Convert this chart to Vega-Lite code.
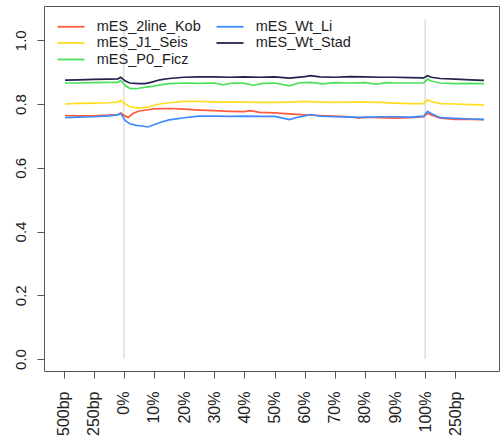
{
  "$schema": "https://vega.github.io/schema/vega-lite/v6.json",
  "width": 455,
  "height": 365,
  "autosize": "none",
  "padding": {"left": 44, "top": 6, "right": 3, "bottom": 72},
  "background": "white",
  "config": {
    "view": {"stroke": "#555", "strokeWidth": 1},
    "font": "Liberation Sans"
  },
  "datasets": {
    "vlines": [{"x": 0, "v": 0, "v2": 1.066}, {"x": 100, "v": 0, "v2": 1.066}],
    "profile": [
      {"s": "mES_Wt_Stad", "x": -19.5, "v": 0.875}, {"s": "mES_Wt_Stad", "x": -15, "v": 0.876}, {"s": "mES_Wt_Stad", "x": -10, "v": 0.877}, {"s": "mES_Wt_Stad", "x": -5, "v": 0.878}, {"s": "mES_Wt_Stad", "x": -2, "v": 0.879}, {"s": "mES_Wt_Stad", "x": -1, "v": 0.884}, {"s": "mES_Wt_Stad", "x": 0.5, "v": 0.872}, {"s": "mES_Wt_Stad", "x": 2, "v": 0.866}, {"s": "mES_Wt_Stad", "x": 5, "v": 0.864}, {"s": "mES_Wt_Stad", "x": 7, "v": 0.864}, {"s": "mES_Wt_Stad", "x": 9, "v": 0.868}, {"s": "mES_Wt_Stad", "x": 12, "v": 0.876}, {"s": "mES_Wt_Stad", "x": 15, "v": 0.88}, {"s": "mES_Wt_Stad", "x": 20, "v": 0.884}, {"s": "mES_Wt_Stad", "x": 25, "v": 0.885}, {"s": "mES_Wt_Stad", "x": 30, "v": 0.885}, {"s": "mES_Wt_Stad", "x": 35, "v": 0.884}, {"s": "mES_Wt_Stad", "x": 40, "v": 0.885}, {"s": "mES_Wt_Stad", "x": 45, "v": 0.884}, {"s": "mES_Wt_Stad", "x": 50, "v": 0.885}, {"s": "mES_Wt_Stad", "x": 55, "v": 0.881}, {"s": "mES_Wt_Stad", "x": 60, "v": 0.886}, {"s": "mES_Wt_Stad", "x": 62, "v": 0.889}, {"s": "mES_Wt_Stad", "x": 65, "v": 0.885}, {"s": "mES_Wt_Stad", "x": 70, "v": 0.884}, {"s": "mES_Wt_Stad", "x": 75, "v": 0.886}, {"s": "mES_Wt_Stad", "x": 80, "v": 0.885}, {"s": "mES_Wt_Stad", "x": 85, "v": 0.884}, {"s": "mES_Wt_Stad", "x": 90, "v": 0.884}, {"s": "mES_Wt_Stad", "x": 95, "v": 0.883}, {"s": "mES_Wt_Stad", "x": 99.5, "v": 0.882}, {"s": "mES_Wt_Stad", "x": 100.8, "v": 0.889}, {"s": "mES_Wt_Stad", "x": 102, "v": 0.884}, {"s": "mES_Wt_Stad", "x": 105, "v": 0.88}, {"s": "mES_Wt_Stad", "x": 110, "v": 0.878}, {"s": "mES_Wt_Stad", "x": 115, "v": 0.876}, {"s": "mES_Wt_Stad", "x": 119.5, "v": 0.874},
      {"s": "mES_P0_Ficz", "x": -19.5, "v": 0.866}, {"s": "mES_P0_Ficz", "x": -15, "v": 0.866}, {"s": "mES_P0_Ficz", "x": -10, "v": 0.867}, {"s": "mES_P0_Ficz", "x": -5, "v": 0.868}, {"s": "mES_P0_Ficz", "x": -2, "v": 0.868}, {"s": "mES_P0_Ficz", "x": -1, "v": 0.874}, {"s": "mES_P0_Ficz", "x": 0.5, "v": 0.858}, {"s": "mES_P0_Ficz", "x": 2, "v": 0.849}, {"s": "mES_P0_Ficz", "x": 4, "v": 0.848}, {"s": "mES_P0_Ficz", "x": 6, "v": 0.851}, {"s": "mES_P0_Ficz", "x": 8, "v": 0.854}, {"s": "mES_P0_Ficz", "x": 10, "v": 0.856}, {"s": "mES_P0_Ficz", "x": 12, "v": 0.86}, {"s": "mES_P0_Ficz", "x": 15, "v": 0.864}, {"s": "mES_P0_Ficz", "x": 20, "v": 0.866}, {"s": "mES_P0_Ficz", "x": 25, "v": 0.865}, {"s": "mES_P0_Ficz", "x": 30, "v": 0.866}, {"s": "mES_P0_Ficz", "x": 33, "v": 0.86}, {"s": "mES_P0_Ficz", "x": 36, "v": 0.866}, {"s": "mES_P0_Ficz", "x": 40, "v": 0.865}, {"s": "mES_P0_Ficz", "x": 43, "v": 0.859}, {"s": "mES_P0_Ficz", "x": 46, "v": 0.865}, {"s": "mES_P0_Ficz", "x": 50, "v": 0.866}, {"s": "mES_P0_Ficz", "x": 55, "v": 0.857}, {"s": "mES_P0_Ficz", "x": 58, "v": 0.866}, {"s": "mES_P0_Ficz", "x": 62, "v": 0.868}, {"s": "mES_P0_Ficz", "x": 66, "v": 0.863}, {"s": "mES_P0_Ficz", "x": 70, "v": 0.867}, {"s": "mES_P0_Ficz", "x": 75, "v": 0.866}, {"s": "mES_P0_Ficz", "x": 80, "v": 0.867}, {"s": "mES_P0_Ficz", "x": 84, "v": 0.862}, {"s": "mES_P0_Ficz", "x": 87, "v": 0.867}, {"s": "mES_P0_Ficz", "x": 90, "v": 0.866}, {"s": "mES_P0_Ficz", "x": 95, "v": 0.866}, {"s": "mES_P0_Ficz", "x": 99.5, "v": 0.866}, {"s": "mES_P0_Ficz", "x": 100.8, "v": 0.878}, {"s": "mES_P0_Ficz", "x": 102, "v": 0.872}, {"s": "mES_P0_Ficz", "x": 105, "v": 0.866}, {"s": "mES_P0_Ficz", "x": 110, "v": 0.864}, {"s": "mES_P0_Ficz", "x": 115, "v": 0.865}, {"s": "mES_P0_Ficz", "x": 119.5, "v": 0.864},
      {"s": "mES_J1_Seis", "x": -19.5, "v": 0.8}, {"s": "mES_J1_Seis", "x": -15, "v": 0.802}, {"s": "mES_J1_Seis", "x": -10, "v": 0.803}, {"s": "mES_J1_Seis", "x": -5, "v": 0.804}, {"s": "mES_J1_Seis", "x": -2, "v": 0.806}, {"s": "mES_J1_Seis", "x": -1, "v": 0.811}, {"s": "mES_J1_Seis", "x": 0.5, "v": 0.8}, {"s": "mES_J1_Seis", "x": 2, "v": 0.792}, {"s": "mES_J1_Seis", "x": 4, "v": 0.788}, {"s": "mES_J1_Seis", "x": 6, "v": 0.788}, {"s": "mES_J1_Seis", "x": 8, "v": 0.79}, {"s": "mES_J1_Seis", "x": 10, "v": 0.796}, {"s": "mES_J1_Seis", "x": 12, "v": 0.8}, {"s": "mES_J1_Seis", "x": 15, "v": 0.804}, {"s": "mES_J1_Seis", "x": 20, "v": 0.808}, {"s": "mES_J1_Seis", "x": 25, "v": 0.808}, {"s": "mES_J1_Seis", "x": 30, "v": 0.807}, {"s": "mES_J1_Seis", "x": 35, "v": 0.806}, {"s": "mES_J1_Seis", "x": 40, "v": 0.806}, {"s": "mES_J1_Seis", "x": 45, "v": 0.805}, {"s": "mES_J1_Seis", "x": 50, "v": 0.805}, {"s": "mES_J1_Seis", "x": 55, "v": 0.806}, {"s": "mES_J1_Seis", "x": 60, "v": 0.808}, {"s": "mES_J1_Seis", "x": 65, "v": 0.806}, {"s": "mES_J1_Seis", "x": 70, "v": 0.805}, {"s": "mES_J1_Seis", "x": 75, "v": 0.806}, {"s": "mES_J1_Seis", "x": 80, "v": 0.806}, {"s": "mES_J1_Seis", "x": 85, "v": 0.805}, {"s": "mES_J1_Seis", "x": 90, "v": 0.803}, {"s": "mES_J1_Seis", "x": 95, "v": 0.801}, {"s": "mES_J1_Seis", "x": 99.5, "v": 0.801}, {"s": "mES_J1_Seis", "x": 100.8, "v": 0.813}, {"s": "mES_J1_Seis", "x": 102, "v": 0.808}, {"s": "mES_J1_Seis", "x": 105, "v": 0.801}, {"s": "mES_J1_Seis", "x": 110, "v": 0.8}, {"s": "mES_J1_Seis", "x": 115, "v": 0.798}, {"s": "mES_J1_Seis", "x": 119.5, "v": 0.797},
      {"s": "mES_2line_Kob", "x": -19.5, "v": 0.764}, {"s": "mES_2line_Kob", "x": -15, "v": 0.763}, {"s": "mES_2line_Kob", "x": -10, "v": 0.763}, {"s": "mES_2line_Kob", "x": -5, "v": 0.765}, {"s": "mES_2line_Kob", "x": -2, "v": 0.767}, {"s": "mES_2line_Kob", "x": -1, "v": 0.772}, {"s": "mES_2line_Kob", "x": 0.5, "v": 0.762}, {"s": "mES_2line_Kob", "x": 1.5, "v": 0.758}, {"s": "mES_2line_Kob", "x": 3, "v": 0.77}, {"s": "mES_2line_Kob", "x": 5, "v": 0.778}, {"s": "mES_2line_Kob", "x": 8, "v": 0.782}, {"s": "mES_2line_Kob", "x": 10, "v": 0.785}, {"s": "mES_2line_Kob", "x": 15, "v": 0.786}, {"s": "mES_2line_Kob", "x": 20, "v": 0.784}, {"s": "mES_2line_Kob", "x": 25, "v": 0.781}, {"s": "mES_2line_Kob", "x": 30, "v": 0.779}, {"s": "mES_2line_Kob", "x": 35, "v": 0.777}, {"s": "mES_2line_Kob", "x": 40, "v": 0.776}, {"s": "mES_2line_Kob", "x": 42, "v": 0.779}, {"s": "mES_2line_Kob", "x": 45, "v": 0.774}, {"s": "mES_2line_Kob", "x": 50, "v": 0.772}, {"s": "mES_2line_Kob", "x": 55, "v": 0.769}, {"s": "mES_2line_Kob", "x": 60, "v": 0.766}, {"s": "mES_2line_Kob", "x": 65, "v": 0.764}, {"s": "mES_2line_Kob", "x": 70, "v": 0.762}, {"s": "mES_2line_Kob", "x": 75, "v": 0.76}, {"s": "mES_2line_Kob", "x": 78, "v": 0.756}, {"s": "mES_2line_Kob", "x": 80, "v": 0.759}, {"s": "mES_2line_Kob", "x": 85, "v": 0.757}, {"s": "mES_2line_Kob", "x": 90, "v": 0.756}, {"s": "mES_2line_Kob", "x": 95, "v": 0.757}, {"s": "mES_2line_Kob", "x": 99.5, "v": 0.76}, {"s": "mES_2line_Kob", "x": 100.8, "v": 0.771}, {"s": "mES_2line_Kob", "x": 102, "v": 0.766}, {"s": "mES_2line_Kob", "x": 105, "v": 0.756}, {"s": "mES_2line_Kob", "x": 110, "v": 0.752}, {"s": "mES_2line_Kob", "x": 115, "v": 0.752}, {"s": "mES_2line_Kob", "x": 119.5, "v": 0.751},
      {"s": "mES_Wt_Li", "x": -19.5, "v": 0.757}, {"s": "mES_Wt_Li", "x": -15, "v": 0.759}, {"s": "mES_Wt_Li", "x": -10, "v": 0.76}, {"s": "mES_Wt_Li", "x": -5, "v": 0.763}, {"s": "mES_Wt_Li", "x": -2, "v": 0.766}, {"s": "mES_Wt_Li", "x": -1, "v": 0.77}, {"s": "mES_Wt_Li", "x": 0.5, "v": 0.748}, {"s": "mES_Wt_Li", "x": 2, "v": 0.738}, {"s": "mES_Wt_Li", "x": 4, "v": 0.733}, {"s": "mES_Wt_Li", "x": 6, "v": 0.731}, {"s": "mES_Wt_Li", "x": 8, "v": 0.728}, {"s": "mES_Wt_Li", "x": 10, "v": 0.735}, {"s": "mES_Wt_Li", "x": 12, "v": 0.742}, {"s": "mES_Wt_Li", "x": 15, "v": 0.75}, {"s": "mES_Wt_Li", "x": 18, "v": 0.754}, {"s": "mES_Wt_Li", "x": 20, "v": 0.757}, {"s": "mES_Wt_Li", "x": 25, "v": 0.762}, {"s": "mES_Wt_Li", "x": 30, "v": 0.762}, {"s": "mES_Wt_Li", "x": 35, "v": 0.761}, {"s": "mES_Wt_Li", "x": 40, "v": 0.762}, {"s": "mES_Wt_Li", "x": 45, "v": 0.761}, {"s": "mES_Wt_Li", "x": 50, "v": 0.761}, {"s": "mES_Wt_Li", "x": 55, "v": 0.751}, {"s": "mES_Wt_Li", "x": 57, "v": 0.757}, {"s": "mES_Wt_Li", "x": 60, "v": 0.763}, {"s": "mES_Wt_Li", "x": 62, "v": 0.767}, {"s": "mES_Wt_Li", "x": 65, "v": 0.762}, {"s": "mES_Wt_Li", "x": 70, "v": 0.76}, {"s": "mES_Wt_Li", "x": 75, "v": 0.759}, {"s": "mES_Wt_Li", "x": 80, "v": 0.758}, {"s": "mES_Wt_Li", "x": 85, "v": 0.76}, {"s": "mES_Wt_Li", "x": 90, "v": 0.76}, {"s": "mES_Wt_Li", "x": 95, "v": 0.759}, {"s": "mES_Wt_Li", "x": 99.5, "v": 0.762}, {"s": "mES_Wt_Li", "x": 100.8, "v": 0.777}, {"s": "mES_Wt_Li", "x": 102, "v": 0.77}, {"s": "mES_Wt_Li", "x": 105, "v": 0.757}, {"s": "mES_Wt_Li", "x": 110, "v": 0.755}, {"s": "mES_Wt_Li", "x": 115, "v": 0.753}, {"s": "mES_Wt_Li", "x": 119.5, "v": 0.752}
    ]
  },
  "encoding": {
    "x": {
      "field": "x", "type": "quantitative",
      "scale": {"domain": [-26.5, 124.5], "nice": false, "zero": false},
      "axis": {
        "title": null, "grid": false, "domain": false,
        "values": [-20, -10, 0, 10, 20, 30, 40, 50, 60, 70, 80, 90, 100, 110],
        "labelExpr": "datum.value == -20 ? '500bp' : (datum.value == -10 || datum.value == 110) ? '250bp' : datum.value + '%'",
        "labelAngle": 270, "labelAlign": "right", "labelBaseline": "middle",
        "labelFontSize": 16, "labelColor": "#222", "labelPadding": 13,
        "tickSize": 7, "tickColor": "#555", "labelFlush": false, "labelOverlap": false, "labelBound": false
      }
    },
    "y": {
      "field": "v", "type": "quantitative",
      "scale": {"domain": [-0.0376, 1.1075], "nice": false, "zero": false},
      "axis": {
        "title": null, "grid": false, "domain": false,
        "values": [0, 0.2, 0.4, 0.6, 0.8, 1.0],
        "format": ".1f",
        "labelAngle": 270, "labelAlign": "center", "labelBaseline": "bottom",
        "labelFontSize": 15, "labelColor": "#222", "labelPadding": 9,
        "tickSize": 7, "tickColor": "#555", "labelFlush": false, "labelOverlap": false
      }
    }
  },
  "layer": [
    {
      "data": {"name": "vlines"},
      "mark": {"type": "rule", "color": "#dddddd", "strokeWidth": 1.5},
      "encoding": {
        "y2": {"field": "v2"}
      }
    },
    {
      "data": {"name": "profile"},
      "mark": {"type": "line", "strokeWidth": 1.7, "interpolate": "linear"},
      "encoding": {
        "color": {
          "field": "s", "type": "nominal",
          "scale": {
            "domain": ["mES_2line_Kob", "mES_Wt_Li", "mES_J1_Seis", "mES_Wt_Stad", "mES_P0_Ficz"],
            "range": ["#ff5a3c", "#3d8bff", "#ffdd22", "#23234e", "#4ce15a"]
          },
          "legend": {
            "title": null, "orient": "none", "legendX": 19, "legendY": 12.5,
            "columns": 2, "direction": "horizontal",
            "symbolType": "M-2,0H2", "symbolSize": 182, "symbolStrokeWidth": 1.8,
            "labelFontSize": 14.5, "labelColor": "#222", "labelOffset": 17.75,
            "columnPadding": 11, "rowPadding": 1.5
          }
        }
      }
    }
  ]
}
